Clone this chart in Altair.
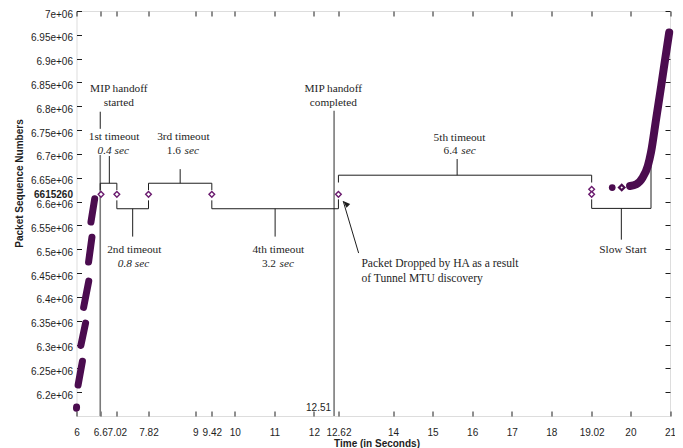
import altair as alt
import pandas as pd

# ---------------- data ----------------
# dense bursts of packets before the handoff (drawn as thick runs)
burst_id = [0, 0, 1, 1, 2, 2, 3, 3, 4, 4, 5, 5]
burst_x = [6.0, 6.002, 6.04, 6.15, 6.11, 6.23, 6.18, 6.31, 6.305, 6.39, 6.365, 6.46]
burst_y = [6166500, 6169000, 6215000, 6265000, 6298000, 6345000,
           6378000, 6433000, 6473000, 6525000, 6557000, 6606000]

# slow start curve after the handoff
ss_x = [19.99, 20.15, 20.31, 20.44, 20.52, 20.65, 20.78, 20.90, 20.98]
ss_y = [6632800, 6636400, 6650600, 6675100, 6703400, 6773800, 6844200, 6911200, 6955000]

# isolated slow start packets
dot_x = [19.54]
dot_y = [6629400]
ring_x = [19.78]
ring_y = [6629400]

# retransmitted packets (open diamonds)
retx_x = [6.62, 7.02, 7.82, 9.42, 12.62, 19.02, 19.02]
retx_y = [6615260, 6615260, 6615260, 6615260, 6615260, 6625800, 6615260]

# timeout brackets: start, end, level, end-tip at start, end-tip at end, stem x, stem tip
br_x1 = [6.6, 7.02, 7.82, 9.42, 12.62, 19.02]
br_x2 = [7.02, 7.82, 9.42, 12.62, 19.02, 20.52]
br_level = [6638500, 6585000, 6638500, 6585000, 6655400, 6585700]
br_end1 = [6624000, 6602600, 6624000, 6602600, 6640000, 6604700]
br_end2 = [6624000, 6602600, 6624000, 6604700, 6640000, 6674400]
br_stem_x = [6.83, 7.42, 8.62, 11.02, 15.62, 19.77]
br_stem_tip = [6695600, 6526500, 6668100, 6526500, 6689300, 6520100]

# handoff markers (grey verticals) and the "started" pointer
vline_x = [6.6, 12.51]
vline_top = [6697700, 6790700]
ptr_x = [6.6]
ptr_y1 = [6752700]
ptr_y2 = [6788600]

# arrow to dropped packet
arrow_x1, arrow_y1 = [13.13], [6492000]
arrow_x2, arrow_y2 = [12.74], [6601100]

# annotation texts
center_text = ["MIP handoff", "started", "1st timeout", "3rd timeout", "2nd timeout",
               "4th timeout", "MIP handoff", "completed", "5th timeout", "Slow Start"]
center_x = [7.07, 7.07, 6.95, 8.70, 7.46, 11.10, 12.49, 12.49, 15.68, 19.81]
center_y = [6835500, 6806500, 6735100, 6735100, 6497500, 6497500,
            6835500, 6806500, 6733000, 6499000]

italic_text = ["0.4 sec", "0.8 sec"]
italic_x = [6.93, 7.44]
italic_y = [6706000, 6468000]

num_text = ["1.6", "3.2", "6.4"]
num_x = [8.684, 11.088, 15.68]
num_y = [6706000, 6468000, 6706000]
unit_text = ["sec", "sec", "sec"]

note_text = ["Packet Dropped by HA as a result", "of Tunnel MTU discovery"]
note_x = [13.20, 13.20]
note_y = [6468700, 6437000]

mark_text = ["12.51"]
mark_x = [12.51]
mark_y = [6166400]

# axes
x_tick_values = [6, 6.6, 7.02, 7.82, 9, 9.42, 10, 11, 12, 12.62, 14, 15, 16, 17, 18, 19.02, 20, 21]
x_tick_labels = ["6", "6.6", "7.02", "7.82", "9", "9.42", "10", "11", "12", "12.62",
                 "14", "15", "16", "17", "18", "19.02", "20", "21"]
y_tick_values = [6200000, 6250000, 6300000, 6350000, 6400000, 6450000, 6500000, 6550000,
                 6600000, 6650000, 6700000, 6750000, 6800000, 6850000, 6900000, 6950000,
                 7000000, 6615260]
y_tick_labels = ["6.2e+06", "6.25e+06", "6.3e+06", "6.35e+06", "6.4e+06", "6.45e+06",
                 "6.5e+06", "6.55e+06", "6.6e+06", "6.65e+06", "6.7e+06", "6.75e+06",
                 "6.8e+06", "6.85e+06", "6.9e+06", "6.95e+06", "7e+06", "6615260"]
x_domain = [6, 21]
y_domain = [6150000, 7000000]

# ---------------- build ----------------
PURPLE = "#4b0c4f"
DIAMOND = "#6a1a6e"
INK = "#1e1e1e"
SERIF = "Liberation Serif"
SANS = "Liberation Sans"


def label_expr(values, labels):
    expr = "''"
    for v, l in reversed(list(zip(values, labels))):
        expr = f"datum.value == {v} ? '{l}' : ({expr})"
    return expr


xs = alt.Scale(domain=x_domain, nice=False, zero=False)
ys = alt.Scale(domain=y_domain, nice=False, zero=False)

x_bottom = alt.Axis(orient="bottom", values=x_tick_values,
                    labelExpr=label_expr(x_tick_values, x_tick_labels),
                    offset=-5, tickSize=5, domain=False, grid=False,
                    labelPadding=11, labelFont=SANS, labelFontSize=10, labelColor=INK,
                    tickColor=INK, labelOverlap=False, labelFlush=False,
                    title="Time (in Seconds)", titleFont=SANS, titleFontSize=10,
                    titleFontWeight="bold", titleColor=INK, titleX=300, titleY=32.3,
                    titleAlign="center", titleBaseline="middle")
y_left = alt.Axis(orient="left", values=y_tick_values,
                  labelExpr=label_expr(y_tick_values, y_tick_labels),
                  offset=-5, tickSize=5, domain=False, grid=False,
                  labelPadding=4, labelFont=SANS, labelFontSize=10, labelColor=INK,
                  tickColor=INK, labelOverlap=False, labelFlush=False,
                  labelFontWeight={"condition": {"test": "datum.value == 6615260", "value": "bold"},
                                   "value": "normal"},
                  labelOffset={"condition": {"test": "datum.value == 6615260", "value": 0},
                               "value": 3},
                  tickOpacity={"condition": {"test": "datum.value == 6615260", "value": 0},
                               "value": 1},
                  title="Packet Sequence Numbers", titleFont=SANS, titleFontSize=10,
                  titleFontWeight="bold", titleColor=INK, titleX=-62.5, titleY=172,
                  titleAngle=270, titleAlign="center", titleBaseline="middle")
x_top = alt.Axis(orient="top", values=x_tick_values, offset=-5, tickSize=5, domain=False,
                 grid=False, labels=False, tickColor=INK, title=None)
y_right = alt.Axis(orient="right", values=y_tick_values[:-1], offset=-5, tickSize=5,
                   domain=False, grid=False, labels=False, tickColor=INK, title=None)

bursts = pd.DataFrame({"id": burst_id, "x": burst_x, "y": burst_y})
base_bursts = alt.Chart(bursts).mark_line(
    color=PURPLE, strokeWidth=7, strokeCap="round"
).encode(
    x=alt.X("x:Q", scale=xs, axis=x_bottom),
    y=alt.Y("y:Q", scale=ys, axis=y_left),
    detail="id:N",
)

ss = pd.DataFrame({"x": ss_x, "y": ss_y})
ss_layer = alt.Chart(ss).mark_line(
    color=PURPLE, strokeWidth=8, strokeCap="round", strokeJoin="round", interpolate="monotone"
).encode(
    x=alt.X("x:Q", scale=xs, axis=None),
    y=alt.Y("y:Q", scale=ys, axis=None),
)

dots = alt.Chart(pd.DataFrame({"x": dot_x, "y": dot_y})).mark_point(
    shape="circle", filled=True, color=PURPLE, size=45, opacity=1
).encode(x=alt.X("x:Q", scale=xs, axis=None), y=alt.Y("y:Q", scale=ys, axis=None))

rings = alt.Chart(pd.DataFrame({"x": ring_x, "y": ring_y})).mark_point(
    shape="diamond", filled=False, color=PURPLE, size=30, strokeWidth=2.2, opacity=1
).encode(x=alt.X("x:Q", scale=xs, axis=None), y=alt.Y("y:Q", scale=ys, axis=None))

retx = alt.Chart(pd.DataFrame({"x": retx_x, "y": retx_y})).mark_point(
    shape="diamond", filled=True, fill="white", stroke=DIAMOND, strokeWidth=1.4,
    size=32, opacity=1
).encode(x=alt.X("x:Q", scale=xs, axis=x_top), y=alt.Y("y:Q", scale=ys, axis=y_right))

# bracket segments
seg_rows = []
for a, b, lv, e1, e2, sx, st in zip(br_x1, br_x2, br_level, br_end1, br_end2,
                                    br_stem_x, br_stem_tip):
    seg_rows.append({"x": a, "x2": a, "y": e1, "y2": lv})
    seg_rows.append({"x": a, "x2": b, "y": lv, "y2": lv})
    seg_rows.append({"x": b, "x2": b, "y": lv, "y2": e2})
    seg_rows.append({"x": sx, "x2": sx, "y": lv, "y2": st})
for px, a, b in zip(ptr_x, ptr_y1, ptr_y2):
    seg_rows.append({"x": px, "x2": px, "y": a, "y2": b})
brackets = alt.Chart(pd.DataFrame(seg_rows)).mark_rule(color=INK, strokeWidth=1).encode(
    x=alt.X("x:Q", scale=xs, axis=None), x2="x2:Q",
    y=alt.Y("y:Q", scale=ys, axis=None), y2="y2:Q",
)

vl = pd.DataFrame({"x": vline_x, "y": [y_domain[0]] * len(vline_x), "y2": vline_top})
vlines = alt.Chart(vl).mark_rule(color="#7a7a7a", strokeWidth=1.6).encode(
    x=alt.X("x:Q", scale=xs, axis=None),
    y=alt.Y("y:Q", scale=ys, axis=None), y2="y2:Q",
)

arr = pd.DataFrame({"x": arrow_x1, "y": arrow_y1, "x2": arrow_x2, "y2": arrow_y2})
arrow_line = alt.Chart(arr).mark_rule(color=INK, strokeWidth=1).encode(
    x=alt.X("x:Q", scale=xs, axis=None), x2="x2:Q",
    y=alt.Y("y:Q", scale=ys, axis=None), y2="y2:Q",
)
arrow_head = alt.Chart(pd.DataFrame({"x": arrow_x2, "y": arrow_y2})).mark_point(
    shape="M0,0 L-0.38,1 L0.38,1 Z", filled=True, color=INK, size=200, angle=313, opacity=1
).encode(x=alt.X("x:Q", scale=xs, axis=None), y=alt.Y("y:Q", scale=ys, axis=None))


def text_layer(texts, xv, yv, align, style="normal", dx=0, font=SERIF, size=11.3):
    df = pd.DataFrame({"t": texts, "x": xv, "y": yv})
    return alt.Chart(df).mark_text(
        align=align, baseline="middle", font=font, fontSize=size, fontStyle=style,
        color=INK, dx=dx
    ).encode(
        x=alt.X("x:Q", scale=xs, axis=None),
        y=alt.Y("y:Q", scale=ys, axis=None),
        text="t:N",
    )


t_center = text_layer(center_text, center_x, center_y, "center")
t_italic = text_layer(italic_text, italic_x, italic_y, "center", style="italic")
t_num = text_layer(num_text, num_x, num_y, "right", dx=-1.8)
t_unit = text_layer(unit_text, num_x, num_y, "left", style="italic", dx=1.8)
t_note = text_layer(note_text, note_x, note_y, "left", size=11.6)
t_mark = text_layer(mark_text, mark_x, mark_y, "right", dx=-3, font=SANS, size=10)

chart = alt.layer(
    vlines, brackets, base_bursts, ss_layer, dots, rings, retx,
    arrow_line, arrow_head, t_center, t_italic, t_num, t_unit, t_note, t_mark
).resolve_axis(
    x="independent", y="independent"
).properties(
    width=593.5, height=405,
    autosize=alt.AutoSizeParams(type="none"),
    padding={"left": 68.5, "top": 3, "right": 5, "bottom": 32},
).configure_view(
    stroke="#2a2a2a", strokeWidth=1.2
).configure(background="white")

chart.save("out.html", embed_options={"renderer": "svg", "actions": False})
